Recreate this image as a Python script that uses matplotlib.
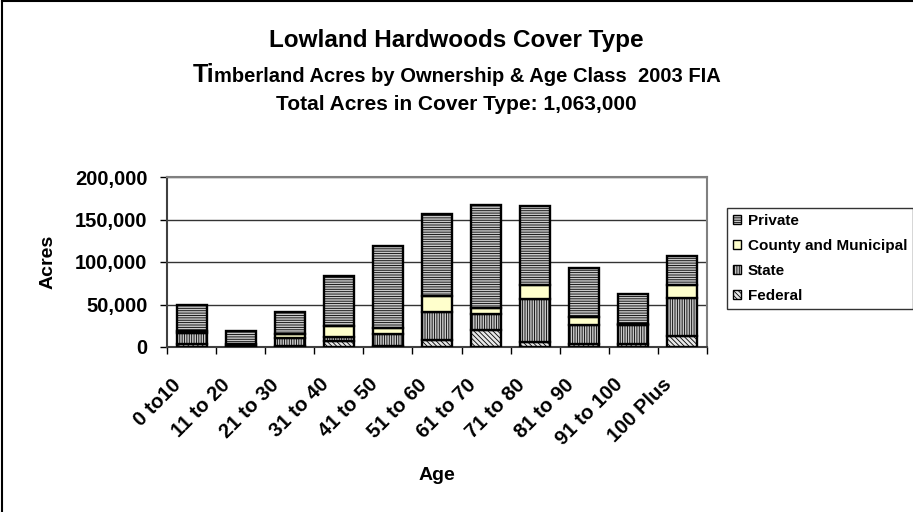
import matplotlib
matplotlib.use("Agg")
import matplotlib.pyplot as plt
import numpy as np
from matplotlib.lines import Line2D

plt.rcParams['font.family'] = ['Liberation Sans', 'DejaVu Sans']
plt.rcParams['hatch.linewidth'] = 0.6

categories = ["0 to10", "11 to 20", "21 to 30", "31 to 40", "41 to 50", "51 to 60",
              "61 to 70", "71 to 80", "81 to 90", "91 to 100", "100 Plus"]
federal = [4000, 1000, 1000, 7000, 1000, 8000, 20000, 5500, 3000, 4000, 13000]
state = [13000, 2000, 9500, 4500, 14000, 33000, 19000, 51500, 22500, 21500, 45000]
county = [1500, 500, 4500, 13000, 7500, 18500, 7000, 15500, 10000, 2000, 14500]
private = [30500, 15300, 26000, 58500, 96000, 96500, 120500, 93000, 57000, 34500, 34000]
yticks = [0, 50000, 100000, 150000, 200000]

W, H = 913, 512
fig = plt.figure(figsize=(W/100, H/100), dpi=100)
ax = fig.add_axes([167/W, 1-347/H, 540/W, 170/H])

x = np.arange(len(categories))
w = 0.61
series = [
    ("Federal", federal, "#e8e8e8", "\\\\\\\\\\\\\\"),
    ("State", state, "#c8c8c8", "|||||||"),
    ("County and Municipal", county, "#ffffcc", None),
    ("Private", private, "#c8c8c8", "-------"),
]
bottom = np.zeros(len(categories))
handles = {}
for name, vals, fc, hatch in series:
    b = ax.bar(x, vals, w, bottom=bottom, facecolor=fc, edgecolor="black",
               linewidth=1.7, hatch=hatch, zorder=3, label=name)
    handles[name] = b
    bottom = bottom + np.array(vals)

ax.set_xlim(-0.5, len(categories) - 0.5)
ax.set_ylim(0, 200000)
ax.set_yticks(yticks)
ax.set_yticklabels([f"{v:,}" for v in yticks], fontsize=14.5, fontweight="bold")
ax.set_xticks(np.arange(len(categories) + 1) - 0.5)
ax.set_xticklabels([])
for xi, cat in zip(x, categories):
    ax.annotate(cat, xy=(xi, 0), xycoords=("data", "axes fraction"),
                xytext=(-20, -28), textcoords="offset pixels",
                rotation=45, ha="right", va="top", rotation_mode="anchor",
                fontsize=14.5, fontweight="bold")
ax.tick_params(axis="x", length=5, direction="out", width=1)
ax.tick_params(axis="y", length=5, direction="out", width=1, pad=9)
ax.yaxis.grid(True, color="#333333", linewidth=1, zorder=0)
ax.set_axisbelow(True)
for s in ["top", "right"]:
    ax.spines[s].set_color("#808080")
    ax.spines[s].set_linewidth(1.5)
for s in ["left", "bottom"]:
    ax.spines[s].set_color("#404040")
    ax.spines[s].set_linewidth(1.5)

ax.set_ylabel("Acres", fontsize=14, fontweight="bold")
ax.yaxis.set_label_coords(-0.204, 0.5)
ax.set_xlabel("Age", fontsize=14, fontweight="bold")
ax.xaxis.set_label_coords(0.5, (347-467)/170)

order = ["Private", "County and Municipal", "State", "Federal"]
leg = fig.legend([handles[n] for n in order], order, loc="upper left",
                 bbox_to_anchor=(727/W, 1-208/H), frameon=True, fancybox=False,
                 edgecolor="black", prop={"size": 11, "weight": "bold"},
                 handlelength=0.5, handleheight=0.5, handletextpad=0.45,
                 labelspacing=0.72, borderpad=0.4, borderaxespad=0)
leg.get_frame().set_linewidth(1)
for h in leg.legend_handles:
    h.set_linewidth(1)

fig.text(0.5, 1-41/H, "Lowland Hardwoods Cover Type", ha="center", va="center",
         fontsize=17.5, fontweight="bold")
fig.text(0.5, 1-104/H, "Total Acres in Cover Type: 1,063,000", ha="center", va="center",
         fontsize=15, fontweight="bold")

# subtitle with enlarged "Ti"
base = 1 - 82/H
t1 = fig.text(0, base, "Ti", ha="left", va="baseline", fontsize=18, fontweight="bold")
t2 = fig.text(0, base, "mberland Acres by Ownership & Age Class  2003 FIA", ha="left",
              va="baseline", fontsize=14.5, fontweight="bold")
fig.canvas.draw()
r = fig.canvas.get_renderer()
w1 = t1.get_window_extent(r).width
w2 = t2.get_window_extent(r).width
x0 = (W - (w1 + w2)) / 2
t1.set_position((x0/W, base))
t2.set_position(((x0 + w1)/W, base))

fig.add_artist(Line2D([2/W, 2/W], [0, 1-1/H], transform=fig.transFigure,
                      color="black", linewidth=1.5))
fig.add_artist(Line2D([2/W, 1], [1-1/H, 1-1/H], transform=fig.transFigure,
                      color="black", linewidth=1.5))

fig.savefig("out.png", dpi=100)
